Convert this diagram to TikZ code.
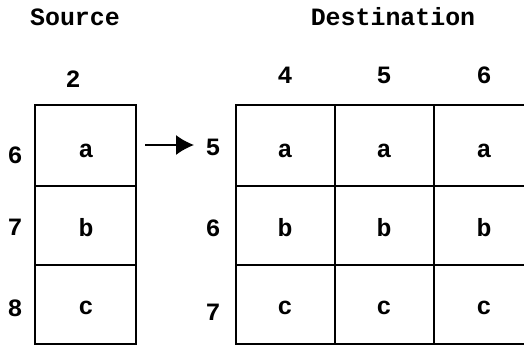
\documentclass[tikz,border=0pt]{standalone}
\usepackage{fontspec}
\setmonofont{Liberation Mono}
\usetikzlibrary{arrows.meta}
\begin{document}
\begin{tikzpicture}[x=1bp,y=-1bp,
  grid/.style={line width=1.6bp},
  lbl/.style={font=\ttfamily\bfseries\fontsize{25}{25}\selectfont, inner sep=0pt, anchor=base},
  cell/.style={lbl},
  link/.style={line width=1.6bp, -{Latex[length=18bp,width=20bp]}}]
\useasboundingbox (0,0) rectangle (524,346);
\begin{scope}
\clip (0,0) rectangle (524,346);
% source column
\draw[grid] (35,105) rectangle (136,344);
\draw[grid] (35,186) -- (136,186);
\draw[grid] (35,265) -- (136,265);
% destination grid (right border runs past the edge)
\draw[grid] (540,105) -- (236,105) -- (236,344) -- (540,344);
\draw[grid] (236,186) -- (540,186);
\draw[grid] (236,265) -- (540,265);
\draw[grid] (335,105) -- (335,344);
\draw[grid] (434,105) -- (434,344);
\end{scope}
% titles
\node[lbl] (tsrc) at (75,25) {Source};
\node[lbl] (tdst) at (393,25) {Destination};
% column headers
\node[lbl] (c2) at (73,87) {2};
\node[lbl] (c4) at (285,83) {4};
\node[lbl] (c5) at (384,83) {5};
\node[lbl] (c6) at (484,83) {6};
% row labels
\node[lbl] (rs6) at (15,163) {6};
\node[lbl] (rs7) at (15,235) {7};
\node[lbl] (rs8) at (15,316) {8};
\node[lbl] (rd5) at (213,155) {5};
\node[lbl] (rd6) at (213,236) {6};
\node[lbl] (rd7) at (213,320) {7};
% cell contents
\node[cell] (sa) at (86,157) {a};
\node[cell] (sb) at (86,236) {b};
\node[cell] (sc) at (86,314) {c};
\foreach \x/\n in {285/1,384/2,484/3}{
  \node[cell] (da\n) at (\x,157) {a};
  \node[cell] (db\n) at (\x,236) {b};
  \node[cell] (dc\n) at (\x,314) {c};
}
% copy arrow
\coordinate (from) at (145,145);
\coordinate (to) at (194,145);
\draw[link] (from) -- (to);
\end{tikzpicture}
\end{document}
